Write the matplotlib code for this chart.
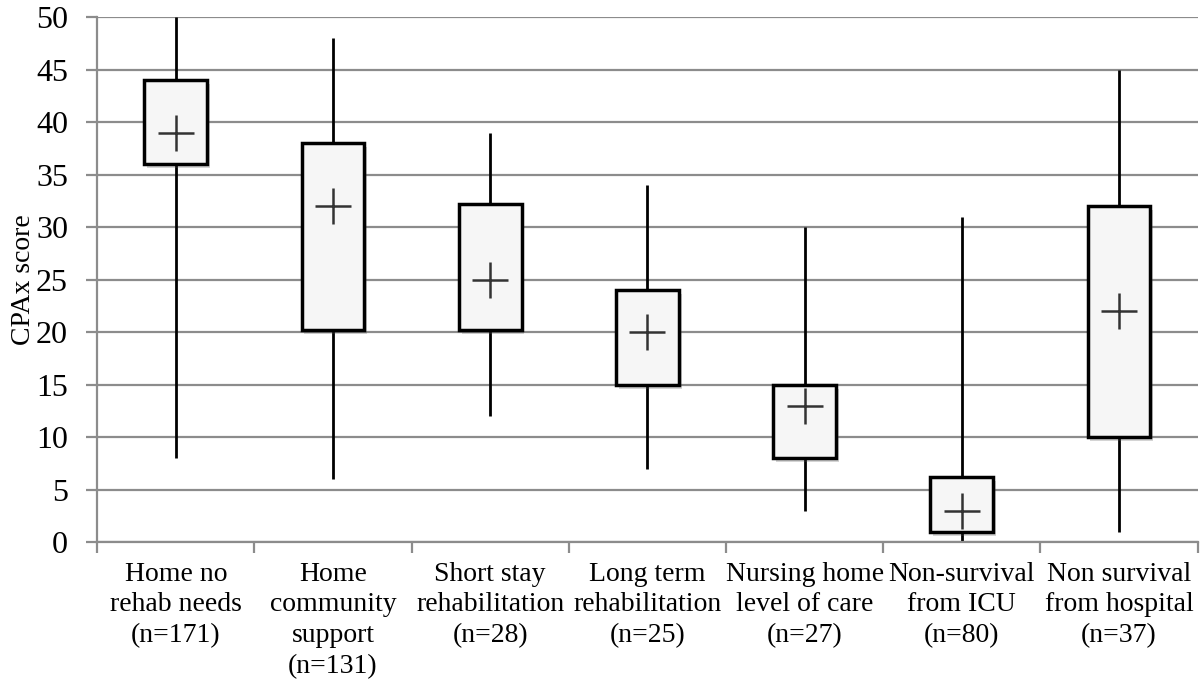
import matplotlib

matplotlib.use("Agg")
import matplotlib.pyplot as plt
import matplotlib.patheffects as pe
import numpy as np

# values
labels = [
    "Home no\nrehab needs\n(n=171)",
    "Home\ncommunity\nsupport\n(n=131)",
    "Short stay\nrehabilitation\n(n=28)",
    "Long term\nrehabilitation\n(n=25)",
    "Nursing home\nlevel of care\n(n=27)",
    "Non-survival\nfrom ICU\n(n=80)",
    "Non survival\nfrom hospital\n(n=37)",
]
mins = [8, 6, 12, 7, 3, 0, 1]
q1 = [36, 20.2, 20.2, 15, 8, 1, 10]
q3 = [44, 38, 32.2, 24, 15, 6.2, 32]
maxs = [50, 48, 39, 34, 30, 31, 45]
centre = [39, 32, 25, 20, 13, 3, 22]

plt.rcParams["font.family"] = ["Liberation Serif", "DejaVu Serif"]

fig = plt.figure(figsize=(12, 6.82), dpi=100)
ax = fig.add_axes([0.081, 0.205, 0.917, 0.77])

x = np.arange(len(labels))
ax.vlines(x, mins, maxs, color="black", lw=2, zorder=2)
bars = ax.bar(x, np.array(q3) - np.array(q1), bottom=q1, width=0.4,
              color="#f6f6f6", edgecolor="black", lw=2.5, zorder=3)
for b in bars:
    b.set_path_effects([pe.SimplePatchShadow(offset=(2, -3), alpha=0.25, shadow_rgbFace="#555555"),
                        pe.Normal()])
ax.plot(x, centre, "+", color="#333333", ms=26, mew=1.8, zorder=4)

ax.set_xlim(-0.5, len(labels) - 0.5)
ax.set_ylim(0, 50)
ax.set_yticks(range(0, 51, 5))
ax.yaxis.grid(True, color="#8c8c8c", lw=1.6)
ax.set_axisbelow(True)

ax.set_xticks(x)
ax.set_xticklabels(labels, fontsize=20, linespacing=1.3, va="top")
ax.tick_params(axis="x", length=0, pad=14)
ax.set_xticks(np.arange(len(labels) + 1) - 0.5, minor=True)
ax.tick_params(axis="x", which="minor", length=8, width=1.6, color="#8c8c8c", direction="out")
ax.tick_params(axis="y", labelsize=23, length=8, width=1.6, color="#8c8c8c", pad=13)

for side in ["top", "right"]:
    ax.spines[side].set_visible(False)
for side in ["left", "bottom"]:
    ax.spines[side].set_color("#8c8c8c")
    ax.spines[side].set_linewidth(1.6)

ax.set_ylabel("CPAx score", fontsize=20, labelpad=0)

fig.savefig("out.png", dpi=100)
